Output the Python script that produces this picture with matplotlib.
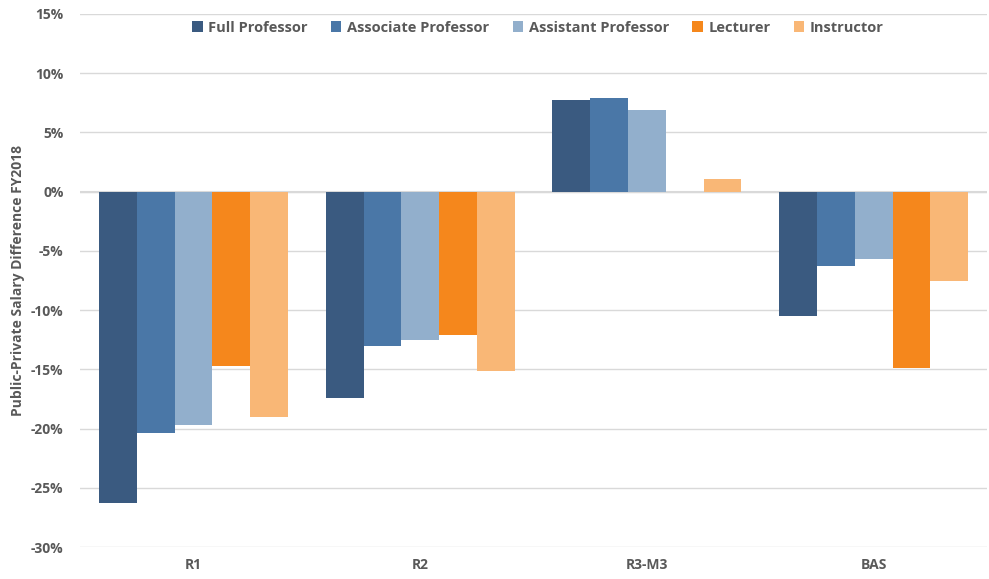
import numpy as np
import matplotlib.pyplot as plt
from matplotlib.ticker import PercentFormatter

categories = ["R1", "R2", "R3-M3", "BAS"]
ranks = ["Full Professor", "Associate Professor", "Assistant Professor", "Lecturer", "Instructor"]
full_prof = [-26.3, -17.4, 7.7, -10.5]
assoc_prof = [-20.4, -13.0, 7.9, -6.3]
asst_prof = [-19.7, -12.5, 6.9, -5.7]
lecturer = [-14.7, -12.1, np.nan, -14.9]
instructor = [-19.0, -15.1, 1.1, -7.5]
colors = ["#3A5A80", "#4A77A7", "#92AFCC", "#F5871C", "#F9B776"]

series = [full_prof, assoc_prof, asst_prof, lecturer, instructor]
grey = "#595959"
plt.rcParams['font.family'] = ['Open Sans', 'DejaVu Sans']
plt.rcParams['axes.unicode_minus'] = False

fig = plt.figure(figsize=(9.89, 5.79), dpi=100)
ax = fig.add_axes([0.081, 0.055, 0.917, 0.921])

x = np.arange(len(categories))
w = 1 / 6
for i, (vals, name) in enumerate(zip(series, ranks)):
    ax.bar(x + (i - 2) * w, vals, w, color=colors[i], label=name, zorder=3)

ax.set_xlim(-0.5, 3.5)
ax.set_ylim(-30, 15)
ax.set_yticks(range(-30, 16, 5))
ax.yaxis.set_major_formatter(PercentFormatter(decimals=0))
ax.set_xticks(x)
ax.set_xticklabels(categories)
ax.grid(axis="y", color="#D9D9D9", linewidth=1, zorder=0)
ax.axhline(0, color="#D9D9D9", linewidth=1.5, zorder=2)
for s in ax.spines.values():
    s.set_visible(False)
ax.tick_params(length=0, colors=grey, labelsize=10)
for lbl in ax.get_xticklabels() + ax.get_yticklabels():
    lbl.set_fontweight("bold")
ax.tick_params(axis="y", pad=12)
ax.tick_params(axis="x", pad=8)
ax.set_ylabel("Public-Private Salary Difference FY2018", color=grey, fontsize=10,
              fontweight="bold", labelpad=4)

leg = ax.legend(loc="upper center", bbox_to_anchor=(0.505, 1.012), ncol=5, frameon=False,
                handlelength=0.7, handleheight=0.7, handletextpad=0.4, columnspacing=1.6,
                prop={"size": 10.5, "weight": "bold"})
for t in leg.get_texts():
    t.set_color(grey)

fig.savefig("out.png")
